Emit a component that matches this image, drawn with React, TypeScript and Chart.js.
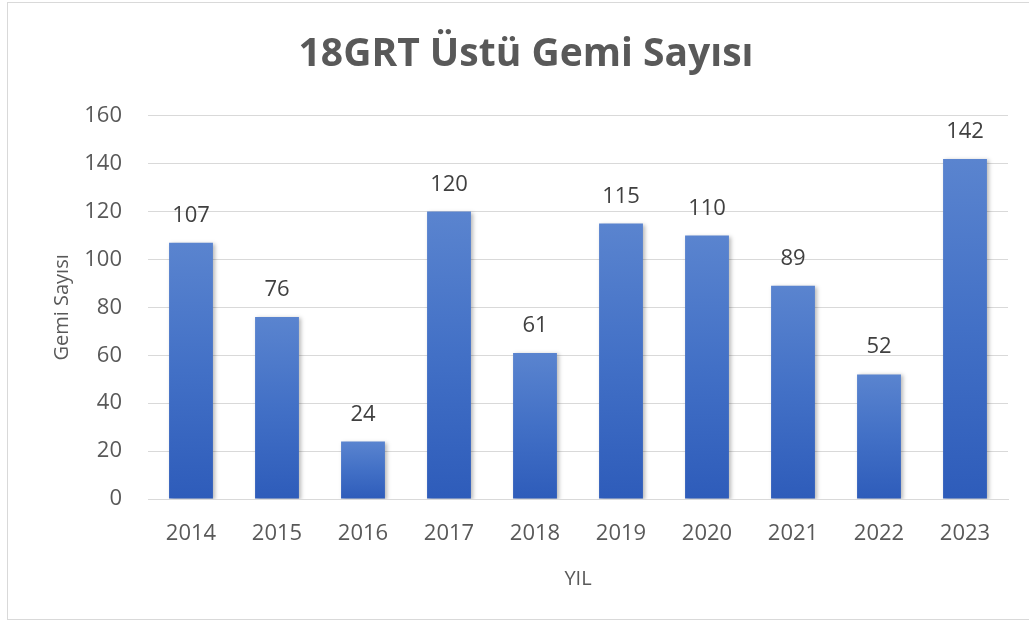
import React, { useEffect, useRef } from "react";
import { Chart, registerables } from "chart.js";

Chart.register(...registerables);

const TITLE = "18GRT Üstü Gemi Sayısı";
const years = ["2014", "2015", "2016", "2017", "2018", "2019", "2020", "2021", "2022", "2023"];
const shipCounts = [107, 76, 24, 120, 61, 115, 110, 89, 52, 142];
const yTicks = [0, 20, 40, 60, 80, 100, 120, 140, 160];
const xAxisTitle = "YIL";
const yAxisTitle = "Gemi Sayısı";

const FONT = "'Open Sans', 'Noto Sans', sans-serif";
const TEXT_SIZE = 22;

const dataLabelPlugin = {
  id: "dataLabels",
  afterDatasetsDraw(chart: any) {
    const ctx = chart.ctx;
    const meta = chart.getDatasetMeta(0);
    ctx.save();
    ctx.font = `${TEXT_SIZE}px ${FONT}`;
    ctx.fillStyle = "#404040";
    ctx.textAlign = "center";
    ctx.textBaseline = "alphabetic";
    meta.data.forEach((el: any, i: number) => {
      ctx.fillText(String(shipCounts[i]), el.x, el.y - 21);
    });
    ctx.restore();
  },
};

const shadowPlugin = {
  id: "barShadow",
  beforeDatasetDraw(chart: any) {
    const ctx = chart.ctx;
    ctx.save();
    ctx.shadowColor = "rgba(0,0,0,0.28)";
    ctx.shadowBlur = 4;
    ctx.shadowOffsetX = 2;
    ctx.shadowOffsetY = 1;
  },
  afterDatasetDraw(chart: any) {
    chart.ctx.restore();
  },
};

export default function App() {
  const ref = useRef<HTMLCanvasElement | null>(null);

  useEffect(() => {
    if (!ref.current) return;
    const chart = new Chart(ref.current, {
      type: "bar",
      data: {
        labels: years,
        datasets: [
          {
            data: shipCounts,
            backgroundColor: (c: any) => {
              const ch = c.chart;
              const y = ch.scales && ch.scales.y;
              if (!y || typeof c.raw !== "number") return "#4472C4";
              const top = y.getPixelForValue(c.raw);
              const bottom = y.getPixelForValue(0);
              if (!isFinite(top) || !isFinite(bottom) || top === bottom) return "#4472C4";
              const g = ch.ctx.createLinearGradient(0, top, 0, bottom);
              g.addColorStop(0, "#5A84CF");
              g.addColorStop(0.5, "#4270C6");
              g.addColorStop(1, "#2E5CBA");
              return g;
            },
            borderWidth: 0,
            barPercentage: 0.51,
            categoryPercentage: 1,
          },
        ],
      },
      options: {
        responsive: false,
        animation: false,
        layout: { padding: { left: 44, right: 21, top: 0, bottom: 0 } },
        plugins: {
          legend: { display: false },
          tooltip: { enabled: false },
          title: {
            display: true,
            text: TITLE,
            color: "#595959",
            font: { family: FONT, size: 39, weight: "bold" },
            padding: { top: 31, bottom: 38 },
          },
        },
        scales: {
          x: {
            grid: { display: false },
            border: { display: true, color: "#d9d9d9", width: 1 },
            ticks: { color: "#595959", font: { family: FONT, size: TEXT_SIZE }, padding: 14 },
            title: {
              display: true,
              text: xAxisTitle,
              color: "#595959",
              font: { family: FONT, size: 20 },
              padding: { top: 0, bottom: 32 },
            },
            afterFit: (scale: any) => {
              scale.height = 124;
            },
          },
          y: {
            min: 0,
            max: 160,
            afterBuildTicks: (scale: any) => {
              scale.ticks = yTicks.map((v) => ({ value: v }));
            },
            grid: { color: "#d9d9d9", lineWidth: 1, drawTicks: false },
            border: { display: false },
            ticks: { color: "#595959", font: { family: FONT, size: TEXT_SIZE }, padding: 26 },
            title: {
              display: true,
              text: yAxisTitle,
              color: "#595959",
              font: { family: FONT, size: 20 },
              padding: { top: 6, bottom: 0 },
            },
            afterFit: (scale: any) => {
              scale.width = 104;
            },
          },
        },
      },
      plugins: [shadowPlugin, dataLabelPlugin],
    });
    return () => chart.destroy();
  }, []);

  return (
    <div
      style={{
        position: "fixed",
        left: 0,
        top: 0,
        width: 1029,
        height: 623,
        overflow: "hidden",
        background: "#ffffff",
      }}
    >
      <div
        style={{
          position: "absolute",
          left: 7,
          top: 2,
          width: 1060,
          height: 618,
          border: "1px solid #d9d9d9",
          boxSizing: "border-box",
        }}
      />
      <canvas
        ref={ref}
        width={1029}
        height={623}
        style={{ position: "absolute", left: 0, top: 0, width: 1029, height: 623 }}
      />
    </div>
  );
}
